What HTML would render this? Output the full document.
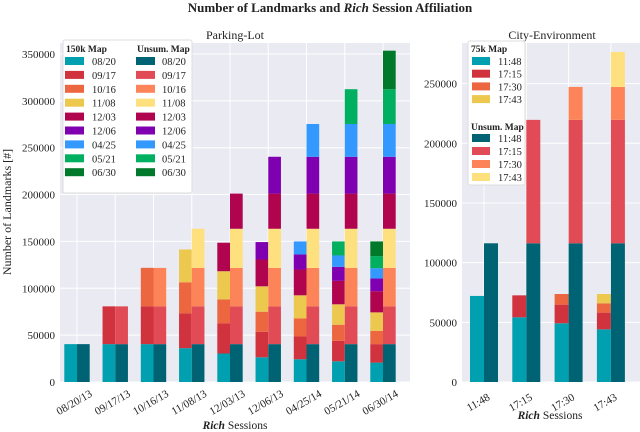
<!DOCTYPE html>
<html><head><meta charset="utf-8">
<style>
body{margin:0;background:#fff;}
svg{display:block;font-family:"Liberation Serif",serif;}
</style></head>
<body>
<svg id="chart" width="640" height="432" viewBox="0 0 640 432"></svg>
<script>
// ---- Parking-Lot data ----
const plSessions = ["08/20/13","09/17/13","10/16/13","11/08/13","12/03/13","12/06/13","04/25/14","05/21/14","06/30/14"];
const plMaps = ["08/20","09/17","10/16","11/08","12/03","12/06","04/25","05/21","06/30"];
const plUnsum = [40400,40300,41000,41800,37500,39300,35000,37100,41100];
const pl150k = [
 [40400],
 [40400,40300],
 [40400,40300,41100],
 [36100,37100,33200,35000],
 [30400,32100,25700,30000,30400],
 [26400,27200,21400,27100,28600,18600],
 [24300,24300,19300,24600,27500,16100,13900],
 [22100,21800,17200,21800,25000,15000,12100,15000],
 [20700,19700,14200,19700,22500,13600,11000,12900,15700]
];
const plTicks = [0,50000,100000,150000,200000,250000,300000,350000];
// ---- City-Environment data ----
const ceSessions = ["11:48","17:15","17:30","17:43"];
const ceUnsum = [116200,103400,27600,29300];
const ce75k = [
 [72100],
 [54200,18400],
 [49200,15600,8900],
 [44100,14000,7800,7800]
];
const ceTicks = [0,50000,100000,150000,200000,250000];

const lightCol=["#00a0b0","#d0323e","#ec6640","#ecc84f","#b0044e","#7f00b0","#3399ff","#00b060","#007a2a"];
const darkCol =["#006373","#e04b55","#fd8459","#ffe07e","#b0044e","#7f00b0","#3399ff","#00b060","#007a2a"];

const NS="http://www.w3.org/2000/svg";
const svg=document.getElementById('chart');
function mk(tag,attrs,parent){const e=document.createElementNS(NS,tag);for(const k in attrs)e.setAttribute(k,attrs[k]);(parent||svg).appendChild(e);return e;}
function txt(s,attrs,parent){const e=mk('text',attrs,parent);e.textContent=s;return e;}

function panel(cfg){
  const {x0,x1,y0,y1,ymax,c0,step,bw,ticks,sessions,unsum,light,name,lx}=cfg;
  const g=mk('g',{});
  
  
  const bg=mk('rect',{x:x0,y:y0,width:x1-x0,height:y1-y0,fill:'#eaeaf2'},g);
  
  
  const ys=v=>y1-(v/ymax)*(y1-y0);
  const xs=i=>c0+step*i;
  ticks.forEach(t=>{
    mk('line',{x1:x0,x2:x1,y1:ys(t),y2:ys(t),stroke:'#fff','stroke-width':1},g);
    const l=txt(String(t),{x:x0-5,y:ys(t)+4,'text-anchor':'end','font-size':11,fill:'#222'},g);
    
    
  });
  sessions.forEach((s,i)=>{
    mk('line',{x1:xs(i),x2:xs(i),y1:y0,y2:y1,stroke:'#fff','stroke-width':1},g);
  });
  sessions.forEach((s,i)=>{
    let cum=0;
    light[i].forEach((v,k)=>{
      const r=mk('rect',{x:xs(i)-bw,y:ys(cum+v),width:bw,height:ys(cum)-ys(cum+v),fill:lightCol[k]},g);
      
      
      cum+=v;
    });
    cum=0;
    for(let k=0;k<=Math.min(i,unsum.length-1);k++){
      const v=unsum[k];
      const r=mk('rect',{x:xs(i),y:ys(cum+v),width:bw,height:ys(cum)-ys(cum+v),fill:darkCol[k]},g);
      
      
      cum+=v;
    }
    const tx=xs(i)+lx, ty=y1+24;
    const l=txt(s,{x:tx,y:ty,'text-anchor':'middle','font-size':11,fill:'#222',transform:`rotate(-30 ${tx} ${ty-4})`},g);
    
    
  });
  return g;
}

panel({x0:60,x1:410,y0:43,y1:382,ymax:361700,c0:77,step:38.25,bw:12.7,ticks:plTicks,sessions:plSessions,unsum:plUnsum,light:pl150k,name:'parking',lx:-3});
panel({x0:462,x1:640,y0:43,y1:382,ymax:284000,c0:484,step:42.3,bw:14,ticks:ceTicks,sessions:ceSessions,unsum:ceUnsum,light:ce75k,name:'city',lx:-6});

let t;
t=txt('',{x:330,y:12,'text-anchor':'middle','font-size':13,'font-weight':'bold',fill:'#222'});
t.innerHTML='Number of Landmarks and <tspan font-style="italic">Rich</tspan> Session Affiliation';

t=txt('Parking-Lot',{x:235,y:39,'text-anchor':'middle','font-size':12,fill:'#222'});

t=txt('City-Environment',{x:552,y:39,'text-anchor':'middle','font-size':12,fill:'#222'});

t=txt('Number of Landmarks [#]',{x:11,y:212,'text-anchor':'middle','font-size':12,fill:'#222',transform:'rotate(-90 11 212)'});

t=txt('',{x:235,y:429,'text-anchor':'middle','font-size':11.5,fill:'#222'});
t.innerHTML='<tspan font-style="italic" font-weight="bold">Rich</tspan> Sessions';

t=txt('',{x:550,y:419,'text-anchor':'middle','font-size':11.5,fill:'#222'});
t.innerHTML='<tspan font-style="italic" font-weight="bold">Rich</tspan> Sessions';


const lg=mk('g',{});

mk('rect',{x:63,y:40,width:129,height:153,rx:2,fill:'#fff',stroke:'#ddd'},lg);
txt('150k Map',{x:66,y:52,'font-size':9.5,'font-weight':'bold',fill:'#222'},lg);
txt('Unsum. Map',{x:137,y:52,'font-size':9.5,'font-weight':'bold',fill:'#222'},lg);
plMaps.forEach((m,k)=>{
  const y=61+13.9*k;
  let s=mk('rect',{x:65,y:y-4,width:19,height:8,fill:lightCol[k]},lg);
  
  txt(m,{x:92,y:y+4,'font-size':10.5,fill:'#222'},lg);
  s=mk('rect',{x:136,y:y-4,width:19,height:8,fill:darkCol[k]},lg);
  
  txt(m,{x:162,y:y+4,'font-size':10.5,fill:'#222'},lg);
});
const lg2=mk('g',{});

mk('rect',{x:468,y:41,width:57,height:144,rx:2,fill:'#fff',stroke:'#ddd'},lg2);
txt('75k Map',{x:471,y:52,'font-size':9.5,'font-weight':'bold',fill:'#222'},lg2);
txt('Unsum. Map',{x:471,y:130,'font-size':9.5,'font-weight':'bold',fill:'#222'},lg2);
ceSessions.forEach((m,k)=>{
  let y=61+12.7*k;
  let s=mk('rect',{x:472,y:y-4,width:18,height:8,fill:lightCol[k]},lg2);
  
  txt(m,{x:498,y:y+4,'font-size':10.5,fill:'#222'},lg2);
  y=138+13*k;
  s=mk('rect',{x:472,y:y-4,width:18,height:8,fill:darkCol[k]},lg2);
  
  txt(m,{x:498,y:y+4,'font-size':10.5,fill:'#222'},lg2);
});
</script>
</body></html>
